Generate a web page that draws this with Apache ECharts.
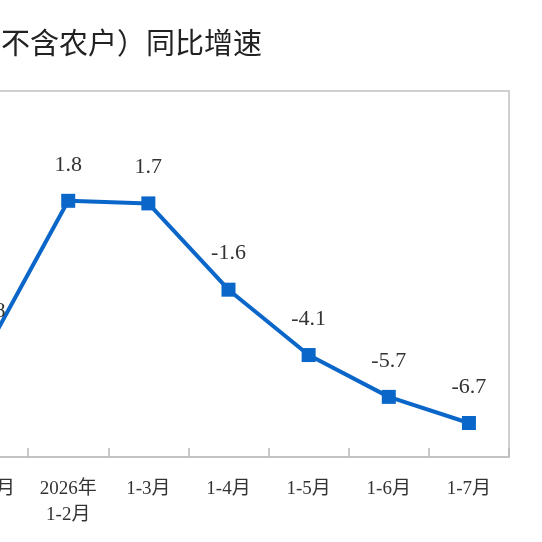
<!DOCTYPE html>
<html><head><meta charset="utf-8">
<script src="https://cdn.jsdelivr.net/npm/echarts@6/dist/echarts.min.js"></script>
<style>html,body{margin:0;padding:0;background:#fff;overflow:hidden;width:542px;height:542px;position:relative;}#c{position:absolute;left:-100px;top:0;width:642px;height:542px;}</style>
</head><body><div id="c"></div>
<script>
const titleText = '不含农户）同比增速';
const categories = ['1-12月', '2026年\n1-2月', '1-3月', '1-4月', '1-5月', '1-6月', '1-7月'];
const growth = [-3.8, 1.8, 1.7, -1.6, -4.1, -5.7, -6.7];
const yMin = -8, yMax = 6;

const chart = echarts.init(document.getElementById('c'));
chart.setOption({
  animation: false,
  backgroundColor: '#fff',
  title: {
    text: titleText, left: 96, top: 23,
    textStyle: { fontFamily: 'Noto Sans CJK SC', fontSize: 29, fontWeight: 'normal', color: '#222' }
  },
  grid: { left: 48, right: 33, top: 91, bottom: 85, show: true, borderColor: '#d0d0d0', borderWidth: 2, containLabel: false },
  xAxis: {
    type: 'category', data: categories, boundaryGap: true,
    axisLine: { onZero: false, lineStyle: { color: '#c4c4c4', width: 2 } },
    axisTick: { show: true, inside: true, length: 9, lineStyle: { color: '#b8b8b8', width: 1.5 } },
    axisLabel: { interval: 0, margin: 19, color: '#333', fontFamily: 'Liberation Serif, DejaVu Serif, Noto Sans CJK SC', fontSize: 19, lineHeight: 26 }
  },
  yAxis: {
    type: 'value', min: yMin, max: yMax, interval: 2,
    axisLine: { show: false }, axisTick: { show: false }, axisLabel: { show: false }, splitLine: { show: false }
  },
  series: [{
    type: 'line', data: growth,
    symbol: 'rect', symbolSize: 14,
    lineStyle: { color: '#0a66c8', width: 4 },
    itemStyle: { color: '#0a66c8' },
    label: { show: true, position: 'top', distance: 18, color: '#333', fontFamily: 'Liberation Serif, DejaVu Serif', fontSize: 22,
      formatter: p => p.value.toFixed(1) }
  }]
});
</script></body></html>
